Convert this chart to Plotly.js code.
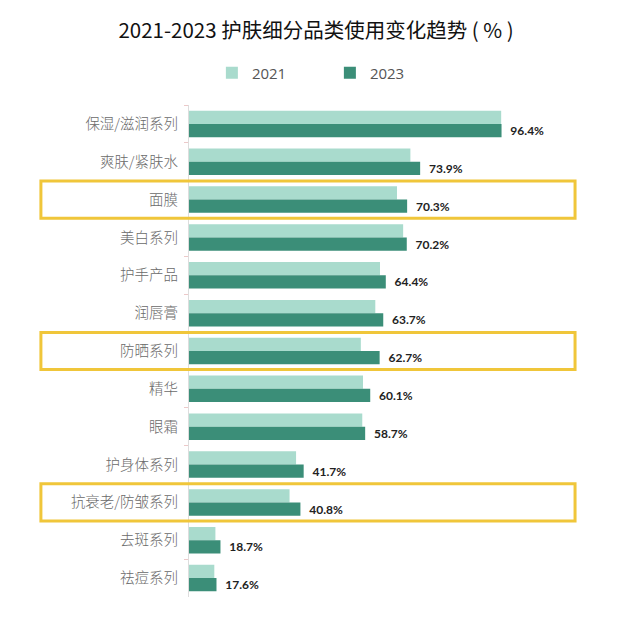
<!DOCTYPE html>
<html>
<head>
<meta charset="utf-8">
<script src="https://cdn.plot.ly/plotly-3.0.1.min.js"></script>
<style>html,body{margin:0;padding:0;background:#fff;}#chart{width:621px;height:619px;}</style>
</head>
<body>
<div id="chart"></div>
<script>
const categories = ['保湿/滋润系列','爽肤/紧肤水','面膜','美白系列','护手产品','润唇膏','防晒系列','精华','眼霜','护身体系列','抗衰老/防皱系列','去斑系列','祛痘系列'];
const values2021 = [96.3, 71.2, 67.5, 69.2, 62.8, 61.5, 57.5, 58.1, 57.9, 39.6, 37.8, 17.3, 17.0];
const values2023 = [96.4, 73.9, 70.3, 70.2, 64.4, 63.7, 62.7, 60.1, 58.7, 41.7, 40.8, 18.7, 17.6];
const seriesNames = ['2021', '2023'];
const highlighted = ['面膜', '防晒系列', '抗衰老/防皱系列'];

const cjk = '"Noto Sans CJK SC", "Noto Sans", sans-serif';

const traces = [
  {
    type: 'bar', orientation: 'h', name: seriesNames[0],
    y: categories, x: values2021,
    marker: {color: '#a9dbcd'},
    hoverinfo: 'skip'
  },
  {
    type: 'bar', orientation: 'h', name: seriesNames[1],
    y: categories, x: values2023,
    marker: {color: '#3b8e78'},
    text: values2023.map(v => '\u00a0\u00a0' + v.toFixed(1) + '%'),
    textposition: 'outside',
    constraintext: 'none',
    cliponaxis: false,
    textfont: {family: 'Lato, "Open Sans", sans-serif', size: 12, color: '#222', weight: 700},
    hoverinfo: 'skip'
  }
];

const shapes = highlighted.map(c => {
  const i = categories.indexOf(c);
  return {
    type: 'rect', xref: 'paper', yref: 'y',
    x0: -0.356, x1: 0.928, y0: i - 0.49, y1: i + 0.49,
    line: {color: '#f0c63a', width: 3},
    fillcolor: 'rgba(0,0,0,0)'
  };
});

const layout = {
  width: 621, height: 619,
  margin: {l: 189, r: 16, t: 105, b: 22},
  paper_bgcolor: '#fff', plot_bgcolor: '#fff',
  title: {
    text: '2021-2023 护肤细分品类使用变化趋势 ( % )',
    font: {family: cjk, size: 20.5, color: '#111'},
    x: 0.509, xanchor: 'center', y: 0.95, yanchor: 'middle'
  },
  barmode: 'group', bargap: 0.3, bargroupgap: 0,
  xaxis: {
    range: [10, 125], showgrid: false, zeroline: false,
    showticklabels: false, ticks: '', showline: false, fixedrange: true
  },
  yaxis: {
    autorange: 'reversed', showgrid: false, zeroline: false,
    showline: true, linecolor: '#dddddd', linewidth: 1,
    ticks: 'outside', ticklen: 4, tickcolor: '#ecc9c9', tickson: 'boundaries',
    tickfont: {family: cjk, size: 14.5, color: '#6a6a6a', weight: 300},
    ticklabelstandoff: 7
  },
  legend: {
    orientation: 'h', x: 0.055, xanchor: 'left', y: 1.065, yanchor: 'middle',
    font: {family: '"Open Sans", "Noto Sans", sans-serif', size: 15, color: '#555'},
    entrywidth: 73, entrywidthmode: 'pixels',
    traceorder: 'normal'
  },
  shapes: shapes,
  showlegend: true
};

Plotly.newPlot('chart', traces, layout, {displayModeBar: false, staticPlot: true});
</script>
</body>
</html>
